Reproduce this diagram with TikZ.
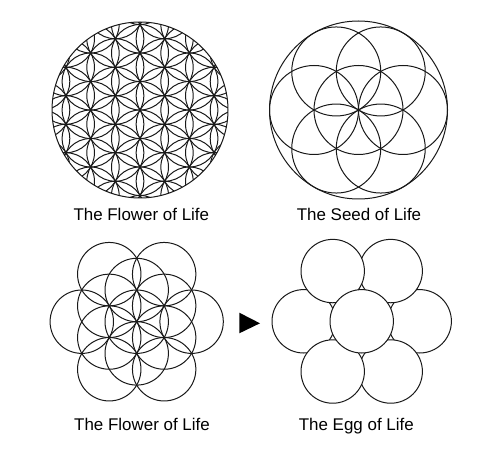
\documentclass[tikz,border=0pt]{standalone}
\usepackage{fontspec}
\setmainfont{Liberation Sans}

\begin{document}
\begin{tikzpicture}[x=1bp,y=-1bp,line width=1bp,
  ring/.style={draw=black!90},
  eggring/.style={draw=black!90,fill=white},
  caption/.style={anchor=base,font=\fontsize{17}{20}\selectfont}]
\useasboundingbox (0,0) rectangle (504,455);
\def\s{28.5}
\def\r{44.5}
\def\q{31.7}
\begin{scope}[shift={(140,110)}]
 \clip (0,0) circle (88);
 \foreach \i in {-4,...,4}
  \foreach \j in {-6,...,6}
   \draw[ring] ({\i*0.8660*\s},{(\j+\i/2)*\s}) circle (\s);
\end{scope}
\draw[ring] (140,110) circle (88);
\begin{scope}[shift={(358.5,110)}]
 \draw[ring] (0,0) circle (2*\r);
 \draw[ring] (0,0) circle (\r);
 \foreach \a in {0,60,...,300}
  \draw[ring] (\a:\r) circle (\r);
\end{scope}
\begin{scope}[shift={(136.7,321.7)}]
 \draw[ring] (0,0) circle (\q);
 \foreach \a in {0,60,...,300} {
  \draw[ring] (\a+30:\q) circle (\q);
  \draw[ring] (\a:{1.7321*\q}) circle (\q);
 }
\end{scope}
\begin{scope}[shift={(361.7,321.3)}]
 \foreach \a in {0,300,60,180,240,120}
  \draw[eggring] (\a:58) circle (\q);
 \draw[eggring] (0,0) circle (\q);
\end{scope}
\fill (239.3,312.7) -- (239.3,333.3) -- (260,323.3) -- cycle;
\node[caption] (flowerTop) at (141.3,221) {The Flower of Life};
\node[caption] (seed) at (359,221) {The Seed of Life};
\node[caption] (flowerBot) at (142,430) {The Flower of Life};
\node[caption] (egg) at (356.3,430) {The Egg of Life};
\end{tikzpicture}
\end{document}
